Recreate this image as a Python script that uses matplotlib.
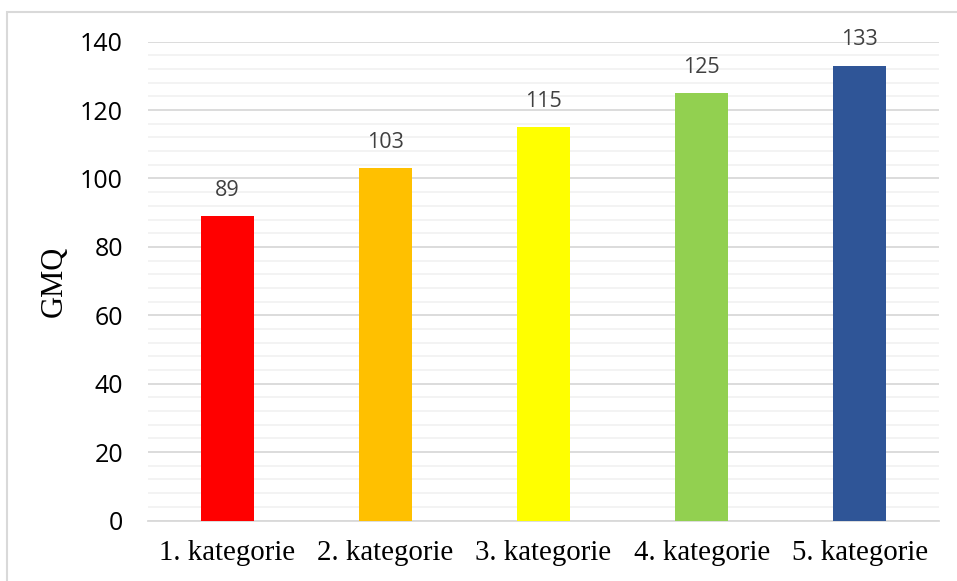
import numpy as np
import matplotlib.pyplot as plt
from matplotlib.patches import Rectangle
from matplotlib.ticker import MultipleLocator

categories = ["1. kategorie", "2. kategorie", "3. kategorie", "4. kategorie", "5. kategorie"]
values = [89, 103, 115, 125, 133]
colors = ["#FF0000", "#FFC000", "#FFFF00", "#92D050", "#2F5597"]

fig = plt.figure(figsize=(9.57, 5.81), dpi=100)
ax = fig.add_axes([148 / 957, 1 - 520.5 / 581, (939 - 148) / 957, (520.5 - 41.7) / 581])

# light frame round the chart, running off the right and bottom edges
fig.patches.append(Rectangle((7 / 957, -0.05), 1.2, 1 - 12 / 581 + 0.05,
                             transform=fig.transFigure, fill=False,
                             edgecolor="#D9D9D9", linewidth=1.5, zorder=0))

x = np.arange(len(categories))
bars = ax.bar(x, values, width=0.335, color=colors, zorder=3)

for b, v in zip(bars, values):
    ax.text(b.get_x() + b.get_width() / 2, v + 4.5, str(v), ha="center", va="bottom",
            fontsize=15.5, color="#404040", family="Open Sans", zorder=4)

ax.set_xlim(-0.5, len(categories) - 0.5)
ax.set_ylim(0, 140)
ax.yaxis.set_major_locator(MultipleLocator(20))
ax.yaxis.set_minor_locator(MultipleLocator(4))
ax.grid(axis="y", which="major", color="#D9D9D9", linewidth=1.3, zorder=1)
ax.grid(axis="y", which="minor", color="#F2F2F2", linewidth=1.3, zorder=1)

for side in ["top", "right", "left"]:
    ax.spines[side].set_visible(False)
ax.spines["bottom"].set_color("#D9D9D9")
ax.spines["bottom"].set_linewidth(1.3)

ax.set_xticks(x)
ax.set_xticklabels(categories, fontsize=20.8, family="Liberation Serif")
ax.tick_params(axis="x", length=0, pad=14)
ax.tick_params(axis="y", which="both", length=0, pad=18, labelsize=18, labelcolor="black")
for t in ax.get_yticklabels():
    t.set_family("Open Sans")

ax.set_ylabel("GMQ", fontsize=22, family="Liberation Serif", labelpad=8)

fig.savefig("out.png", dpi=100)
